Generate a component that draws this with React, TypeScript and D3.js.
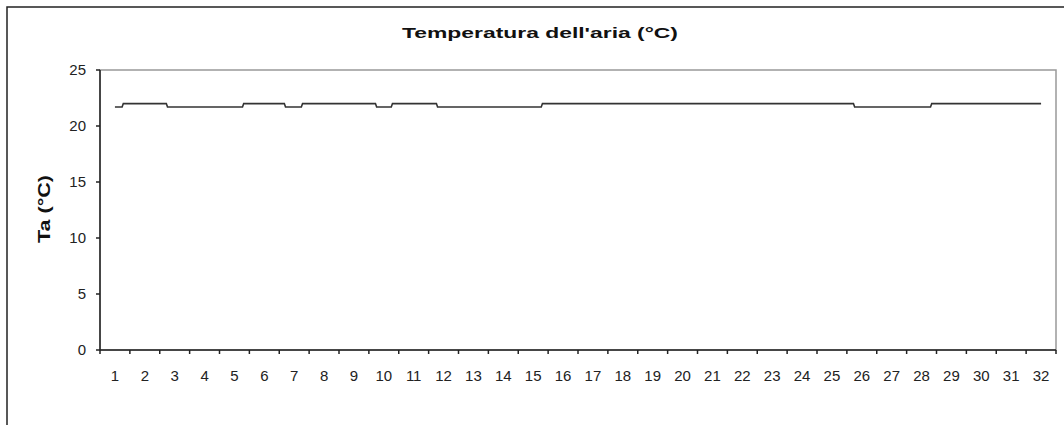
import React from "react";
import * as d3 from "d3";

const W = 1064;
const H = 425;

const chartTitle = "Temperatura dell'aria (°C)";
const yTitle = "Ta (°C)";
const days = d3.range(1, 33).map(String);
const yTicks = [0, 5, 10, 15, 20, 25];

// Time (fractional day position) and air temperature
const timeDays = [1.0, 1.24, 1.28, 2.72, 2.76, 5.27, 5.31, 6.67, 6.71, 7.24, 7.28, 9.72, 9.76, 10.25, 10.29, 11.76, 11.8, 15.27, 15.31, 25.72, 25.76, 28.3, 28.34, 32.0];
const tempValues = [21.7, 21.7, 22.0, 22.0, 21.7, 21.7, 22.0, 22.0, 21.7, 21.7, 22.0, 22.0, 21.7, 21.7, 22.0, 22.0, 21.7, 21.7, 22.0, 22.0, 21.7, 21.7, 22.0, 22.0];

export default function App() {
  const left = 100, right = 1056, top = 70, bottom = 350;
  const band = d3.scaleBand<string>().domain(days).range([left, right]).padding(0);
  const x = d3.scaleLinear().domain([0.5, 32.5]).range([left, right]);
  const y = d3.scaleLinear().domain([0, 25]).range([bottom, top]);
  const pts = timeDays.map((t, i) => [x(t), y(tempValues[i])] as [number, number]);
  const line = d3.line();
  const font = "'Liberation Sans', Arial, sans-serif";
  return (
    <svg width={W} height={H} style={{ position: "absolute", left: 0, top: 0, background: "#fff" }}>
      <rect x={7} y={7} width={1100} height={500} fill="#fff" stroke="#222" strokeWidth={1.5} />
      <text x={540} y={38} textAnchor="middle" fontFamily={font} fontWeight="bold" fontSize={15} fill="#111"
        textLength={276} lengthAdjust="spacingAndGlyphs">
        {chartTitle}
      </text>
      <text transform={`translate(50,209) rotate(-90)`} textAnchor="middle" fontFamily={font} fontWeight="bold" fontSize={17} fill="#111"
        textLength={68} lengthAdjust="spacingAndGlyphs">
        {yTitle}
      </text>
      <rect x={left} y={top} width={right - left} height={bottom - top} fill="none" stroke="#999" strokeWidth={1.5} />
      <line x1={left} x2={left} y1={top} y2={bottom + 4} stroke="#222" strokeWidth={1.5} />
      <line x1={left} x2={right} y1={bottom} y2={bottom} stroke="#222" strokeWidth={1.5} />
      {yTicks.map((t) => (
        <g key={t}>
          <line x1={left - 4} x2={left} y1={y(t)} y2={y(t)} stroke="#222" strokeWidth={1.5} />
          <text x={86} y={y(t)} dy="0.35em" textAnchor="end" fontFamily={font} fontSize={15} fill="#222">
            {t}
          </text>
        </g>
      ))}
      {days.map((d) => (
        <g key={d}>
          <line x1={(band(d) as number) + band.bandwidth()} x2={(band(d) as number) + band.bandwidth()} y1={bottom} y2={bottom + 4} stroke="#222" strokeWidth={1.5} />
          <text x={(band(d) as number) + band.bandwidth() / 2} y={376} dy="0.35em" textAnchor="middle" fontFamily={font} fontSize={15} fill="#222">
            {d}
          </text>
        </g>
      ))}
      <path d={line(pts) || ""} fill="none" stroke="#333" strokeWidth={1.6} />
    </svg>
  );
}
